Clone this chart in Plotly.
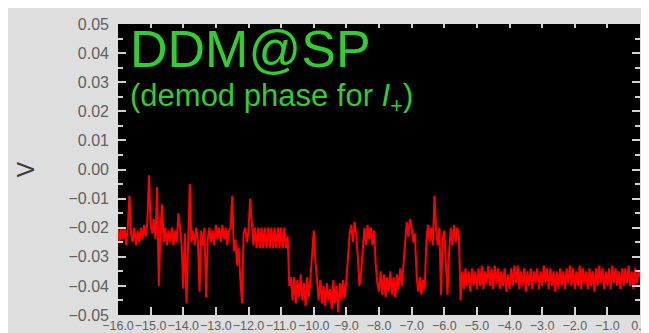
import numpy as np
import plotly.graph_objects as go

# time axis: -16.0 .. 0.0 sampled every 0.05
x_start, x_end, n_samples = -16.0, 0.0, 321

# signal in mV, one row per unit interval (20 samples each) + final sample
signal_mV = [
    # -16 .. -15.05
    -20, -25, -20, -24, -20, -26, -20, -9, -22, -25, -20, -26, -21, -25, -20, -24, -19, -23, -18, -2,
    # -15 .. -14.05
    -19, -22, -17, -24, -6, -40, -21, -12, -25, -20, -26, -21, -25, -20, -26, -21, -25, -15, -20, -26,
    # -14 .. -13.05
    -41, -22, -46, -20, -5, -25, -21, -26, -20, -25, -42, -21, -26, -20, -44, -24, -20, -25, -21, -26,
    # -13 .. -12.05
    -19, -24, -20, -25, -19, -24, -20, -26, -21, -20, -9, -28, -24, -33, -27, -38, -46, -22, -20, -25,
    # -12 .. -11.05
    -21, -10, -20, -26, -20, -27, -20, -27, -20, -27, -20, -27, -20, -27, -20, -27, -20, -27, -20, -27,
    # -11 .. -10.05
    -20, -27, -20, -27, -23, -40, -37, -45, -37, -46, -38, -44, -36, -45, -39, -47, -37, -44, -37, -30,
    # -10 .. -9.05
    -21, -31, -40, -45, -38, -46, -40, -47, -39, -45, -41, -48, -38, -46, -40, -49, -39, -45, -38, -44,
    # -9 .. -8.05
    -38, -30, -22, -19, -25, -18, -22, -30, -40, -36, -27, -20, -26, -19, -24, -20, -26, -21, -33, -39,
    # -8 .. -7.05
    -42, -35, -43, -36, -44, -37, -42, -35, -43, -37, -44, -36, -41, -34, -40, -33, -24, -18, -23, -17,
    # -7 .. -6.05
    -20, -25, -22, -36, -42, -37, -43, -38, -41, -25, -19, -25, -20, -26, -9, -21, -26, -20, -43, -24,
    # -6 .. -5.05
    -21, -30, -43, -28, -20, -26, -19, -25, -20, -23, -45, -35, -41, -34, -40, -35, -42, -34, -40, -35,
    # -5 .. -4.05
    -41, -34, -40, -33, -41, -35, -39, -33, -40, -34, -41, -33, -39, -34, -41, -35, -40, -34, -42, -36,
    # -4 .. -3.05
    -41, -34, -40, -33, -39, -33, -41, -35, -40, -34, -42, -35, -40, -34, -41, -35, -39, -34, -41, -35,
    # -3 .. -2.05
    -40, -33, -39, -34, -41, -34, -40, -35, -42, -35, -41, -34, -40, -35, -41, -34, -39, -33, -40, -34,
    # -2 .. -1.05
    -41, -35, -40, -33, -41, -34, -39, -35, -41, -34, -40, -35, -42, -34, -40, -33, -39, -34, -41, -35,
    # -1 .. 0.0
    -40, -34, -41, -33, -39, -34, -40, -35, -41, -34, -40, -34, -39, -33, -40, -35, -41, -34, -39, -35,
    -37,
]

x_range = [-16.0, 0.0]
y_range = [-0.05, 0.05]
title_text = "DDM@SP"
subtitle_text = "(demod phase for <i>I</i><sub>+</sub>)"
y_label = "V"

t = np.linspace(x_start, x_end, n_samples)
volts = np.array(signal_mV) / 1000.0

FONT = "Liberation Sans, Arial, sans-serif"
GREEN = "#33cc33"
BG = "#dedede"
TICKCOL = "#d0d0d0"
LABELCOL = "#5e5e5e"

fig = go.Figure()
fig.add_trace(go.Scatter(
    x=t, y=volts, mode="lines",
    line=dict(color="#ff0000", width=2),
    showlegend=False, hoverinfo="skip",
))
# invisible trace to anchor the top tick axis
fig.add_trace(go.Scatter(
    x=[t[0]], y=[volts[0]], xaxis="x2", mode="markers",
    marker=dict(opacity=0), showlegend=False, hoverinfo="skip",
))

fig.update_layout(
    width=649, height=333,
    margin=dict(l=110, r=8, t=14, b=19),
    paper_bgcolor=BG,
    plot_bgcolor="#000000",
    font=dict(family=FONT, color=LABELCOL),
    xaxis=dict(
        range=x_range, dtick=1, tick0=0, tickformat=".1f", tickangle=0,
        ticks="inside", ticklen=8, tickwidth=2, tickcolor=TICKCOL,
        showgrid=False, zeroline=False, showline=False,
        tickfont=dict(size=12.5, color=LABELCOL, family=FONT),
        ticklabelstandoff=1, ticklabeloverflow="allow",
    ),
    xaxis2=dict(
        range=x_range, dtick=1, tick0=0, overlaying="x", side="top", anchor="y",
        ticks="inside", ticklen=4, tickwidth=2, tickcolor=TICKCOL,
        showticklabels=False, showgrid=False, zeroline=False, showline=False,
    ),
    yaxis=dict(
        range=y_range, dtick=0.01, tick0=0, tickformat=".2f",
        ticks="inside", ticklen=8, tickwidth=2, tickcolor=TICKCOL,
        mirror="ticks",
        minor=dict(dtick=0.005, ticks="inside", ticklen=5, tickwidth=1.5, tickcolor=TICKCOL),
        showgrid=False, zeroline=False, showline=False,
        tickfont=dict(size=16, color=LABELCOL, family=FONT),
        ticklabelstandoff=8,
        title=dict(text=y_label, standoff=27, font=dict(size=23, color="#3a3a3a", family=FONT)),
    ),
    annotations=[
        dict(text=title_text, xref="paper", yref="paper", x=0.019, y=0.913,
             xanchor="left", yanchor="middle", showarrow=False,
             font=dict(size=52, color=GREEN, family=FONT)),
        dict(text=subtitle_text, xref="paper", yref="paper", x=0.019, y=0.745,
             xanchor="left", yanchor="middle", showarrow=False,
             font=dict(size=31, color=GREEN, family=FONT)),
    ],
)

fig.write_html("out.html")
